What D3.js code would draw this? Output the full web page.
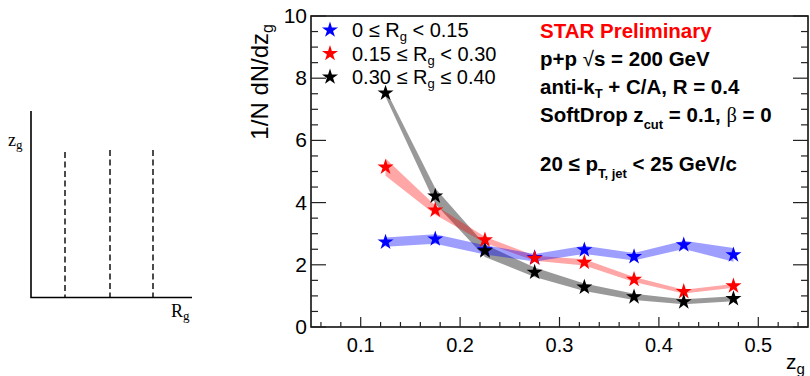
<!DOCTYPE html>
<html>
<head>
<meta charset="utf-8">
<script src="https://cdn.jsdelivr.net/npm/d3@7"></script>
<style>
  body { margin: 0; background: #fff; }
  svg { display: block; font-family: "Liberation Sans", Arial, sans-serif; }
</style>
</head>
<body>
<div id="chart"></div>
<script>
// bin centres in z_g
const zgBins = [0.125, 0.175, 0.225, 0.275, 0.325, 0.375, 0.425, 0.475];

// 1/N dN/dz_g for three R_g selections, with systematic band half-widths
const lowRg = [2.73, 2.83, 2.48, 2.23, 2.48, 2.26, 2.64, 2.32];
const lowRgSys = [0.15, 0.15, 0.15, 0.12, 0.13, 0.12, 0.13, 0.22];
const midRg = [5.14, 3.76, 2.8, 2.21, 2.08, 1.53, 1.14, 1.32];
const midRgSys = [0.28, 0.15, 0.1, 0.08, 0.1, 0.08, 0.06, 0.06];
const highRg = [7.52, 4.21, 2.45, 1.76, 1.28, 0.97, 0.81, 0.91];
const highRgSys = [0.12, 0.25, 0.2, 0.15, 0.12, 0.1, 0.08, 0.08];

const xTicks = [0.1, 0.2, 0.3, 0.4, 0.5];
const yTicks = [0, 2, 4, 6, 8, 10];

const series = [
  { name: "high", vals: highRg, sys: highRgSys, color: "#000", band: "rgba(0,0,0,0.4)" },
  { name: "mid", vals: midRg, sys: midRgSys, color: "#f00", band: "rgba(255,0,0,0.35)" },
  { name: "low", vals: lowRg, sys: lowRgSys, color: "#00f", band: "rgba(0,0,255,0.38)" },
];

const W = 810, H = 376;
const PLOT = { left: 311, right: 808, top: 16, bottom: 327 };

const svg = d3.select("#chart").append("svg").attr("width", W).attr("height", H);

// ---- schematic on the left ----
const sk = svg.append("g").attr("stroke", "#000").attr("fill", "none");
sk.append("path").attr("d", "M31,111 V297.5 H192").attr("stroke-width", 1.6);
[[65, 152], [110, 150], [153, 150]].forEach(([x, y0]) => {
  sk.append("line")
    .attr("x1", x).attr("x2", x).attr("y1", y0).attr("y2", 297)
    .attr("stroke-width", 1.4).attr("stroke-dasharray", "6,3.5");
});
const serif = "'Liberation Serif', 'DejaVu Serif', serif";
const zl = svg.append("text").attr("x", 8).attr("y", 146).style("font-family", serif).attr("font-size", 18);
zl.append("tspan").text("z");
zl.append("tspan").attr("font-size", 13).attr("dy", 3).text("g");
const rl = svg.append("text").attr("x", 171).attr("y", 317).style("font-family", serif).attr("font-size", 18);
rl.append("tspan").text("R");
rl.append("tspan").attr("font-size", 13).attr("dy", 3).text("g");

// ---- main plot ----
const x = d3.scaleLinear().domain([0.05, 0.55]).range([PLOT.left, PLOT.right]);
const y = d3.scaleLinear().domain([0, 10]).range([PLOT.bottom, PLOT.top]);

// bands
const area = d3.area()
  .x((d) => x(d.x))
  .y0((d) => y(d.v - d.s))
  .y1((d) => y(d.v + d.s));

series.forEach((s) => {
  const pts = zgBins.map((z, i) => ({ x: z, v: s.vals[i], s: s.sys[i] }));
  svg.append("path").datum(pts).attr("d", area).attr("fill", s.band);
});

// markers
const star = d3.symbol().type(d3.symbolStar).size(80);
[series[2], series[1], series[0]].forEach((s) => {
  svg.append("g").selectAll("path")
    .data(zgBins.map((z, i) => [z, s.vals[i]]))
    .join("path")
    .attr("d", star)
    .attr("transform", (d) => `translate(${x(d[0])},${y(d[1])})`)
    .attr("fill", s.color);
});

// frame
svg.append("rect")
  .attr("x", PLOT.left).attr("y", PLOT.top)
  .attr("width", PLOT.right - PLOT.left).attr("height", PLOT.bottom - PLOT.top)
  .attr("fill", "none").attr("stroke", "#000").attr("stroke-width", 1.5);

// x axis ticks (inward)
const xMinor = d3.range(0.06, 0.55, 0.02).map((v) => +v.toFixed(2));
const xAx = svg.append("g").attr("stroke", "#222").attr("stroke-width", 1.2);
xMinor.forEach((v) => {
  const major = xTicks.some((t) => Math.abs(t - v) < 1e-6);
  xAx.append("line").attr("x1", x(v)).attr("x2", x(v))
    .attr("y1", PLOT.bottom).attr("y2", PLOT.bottom - (major ? 10 : 5));
});
xTicks.forEach((v) => {
  svg.append("text").attr("x", x(v)).attr("y", 352)
    .attr("text-anchor", "middle").attr("font-size", 20).text(v.toFixed(1));
});

// y axis ticks (left and right, inward)
const yMinor = d3.range(0, 10.01, 0.5);
const yAx = svg.append("g").attr("stroke", "#222").attr("stroke-width", 1.2);
yMinor.forEach((v) => {
  const len = v % 2 === 0 ? 15 : 7;
  yAx.append("line").attr("x1", PLOT.left).attr("x2", PLOT.left + len).attr("y1", y(v)).attr("y2", y(v));
  yAx.append("line").attr("x1", PLOT.right).attr("x2", PLOT.right - len).attr("y1", y(v)).attr("y2", y(v));
});
yTicks.forEach((v) => {
  svg.append("text").attr("x", PLOT.left - 4).attr("y", y(v) + 7)
    .attr("text-anchor", "end").attr("font-size", 21).text(v);
});

// axis titles
const yt = svg.append("text")
  .attr("transform", `translate(268,24) rotate(-90)`)
  .attr("text-anchor", "end").attr("font-size", 24);
yt.append("tspan").text("1/N dN/dz");
yt.append("tspan").attr("font-size", 16).attr("dy", 5).text("g");

const xt = svg.append("text").attr("x", 786).attr("y", 369).attr("font-size", 21);
xt.append("tspan").text("z");
xt.append("tspan").attr("font-size", 15).attr("dy", 5).text("g");

// legend
const legend = [
  { color: "#00f", lo: "0", op1: "≤", op2: "<", hi: "0.15" },
  { color: "#f00", lo: "0.15", op1: "≤", op2: "<", hi: "0.30" },
  { color: "#000", lo: "0.30", op1: "≤", op2: "≤", hi: "0.40" },
];
legend.forEach((d, i) => {
  const ly = 30 + i * 23.5;
  svg.append("path").attr("d", star).attr("transform", `translate(330,${ly})`).attr("fill", d.color);
  const t = svg.append("text").attr("x", 352).attr("y", ly + 7).attr("font-size", 20);
  t.append("tspan").text(`${d.lo} ${d.op1} R`);
  t.append("tspan").attr("font-size", 13).attr("dy", 4).text("g");
  t.append("tspan").attr("dy", -4).text(` ${d.op2} ${d.hi}`);
});

// info text
const info = svg.append("g").attr("font-weight", "bold").attr("font-size", 20.5);
info.append("text").attr("x", 540).attr("y", 38).attr("fill", "#f00").text("STAR Preliminary");
const l2 = info.append("text").attr("x", 540).attr("y", 66);
l2.append("tspan").text("p+p ");
l2.append("tspan").attr("font-weight", "normal").text("\u221A");
l2.append("tspan").text("s = 200 GeV");
const l3 = info.append("text").attr("x", 540).attr("y", 94);
l3.append("tspan").text("anti-k");
l3.append("tspan").attr("font-size", 13).attr("dy", 4).text("T");
l3.append("tspan").attr("dy", -4).text(" + C/A, R = 0.4");
const l4 = info.append("text").attr("x", 540).attr("y", 122);
l4.append("tspan").text("SoftDrop z");
l4.append("tspan").attr("font-size", 13).attr("dy", 7).text("cut");
l4.append("tspan").attr("dy", -7).text(" = 0.1, ");
l4.append("tspan").attr("font-weight", "normal").style("font-family", "'Liberation Serif', serif").text("β");
l4.append("tspan").text(" = 0");
const l5 = info.append("text").attr("x", 540).attr("y", 171);
l5.append("tspan").text("20 ≤ p");
l5.append("tspan").attr("font-size", 13).attr("dy", 7).text("T, jet");
l5.append("tspan").attr("dy", -7).text(" < 25 GeV/c");
</script>
</body>
</html>
